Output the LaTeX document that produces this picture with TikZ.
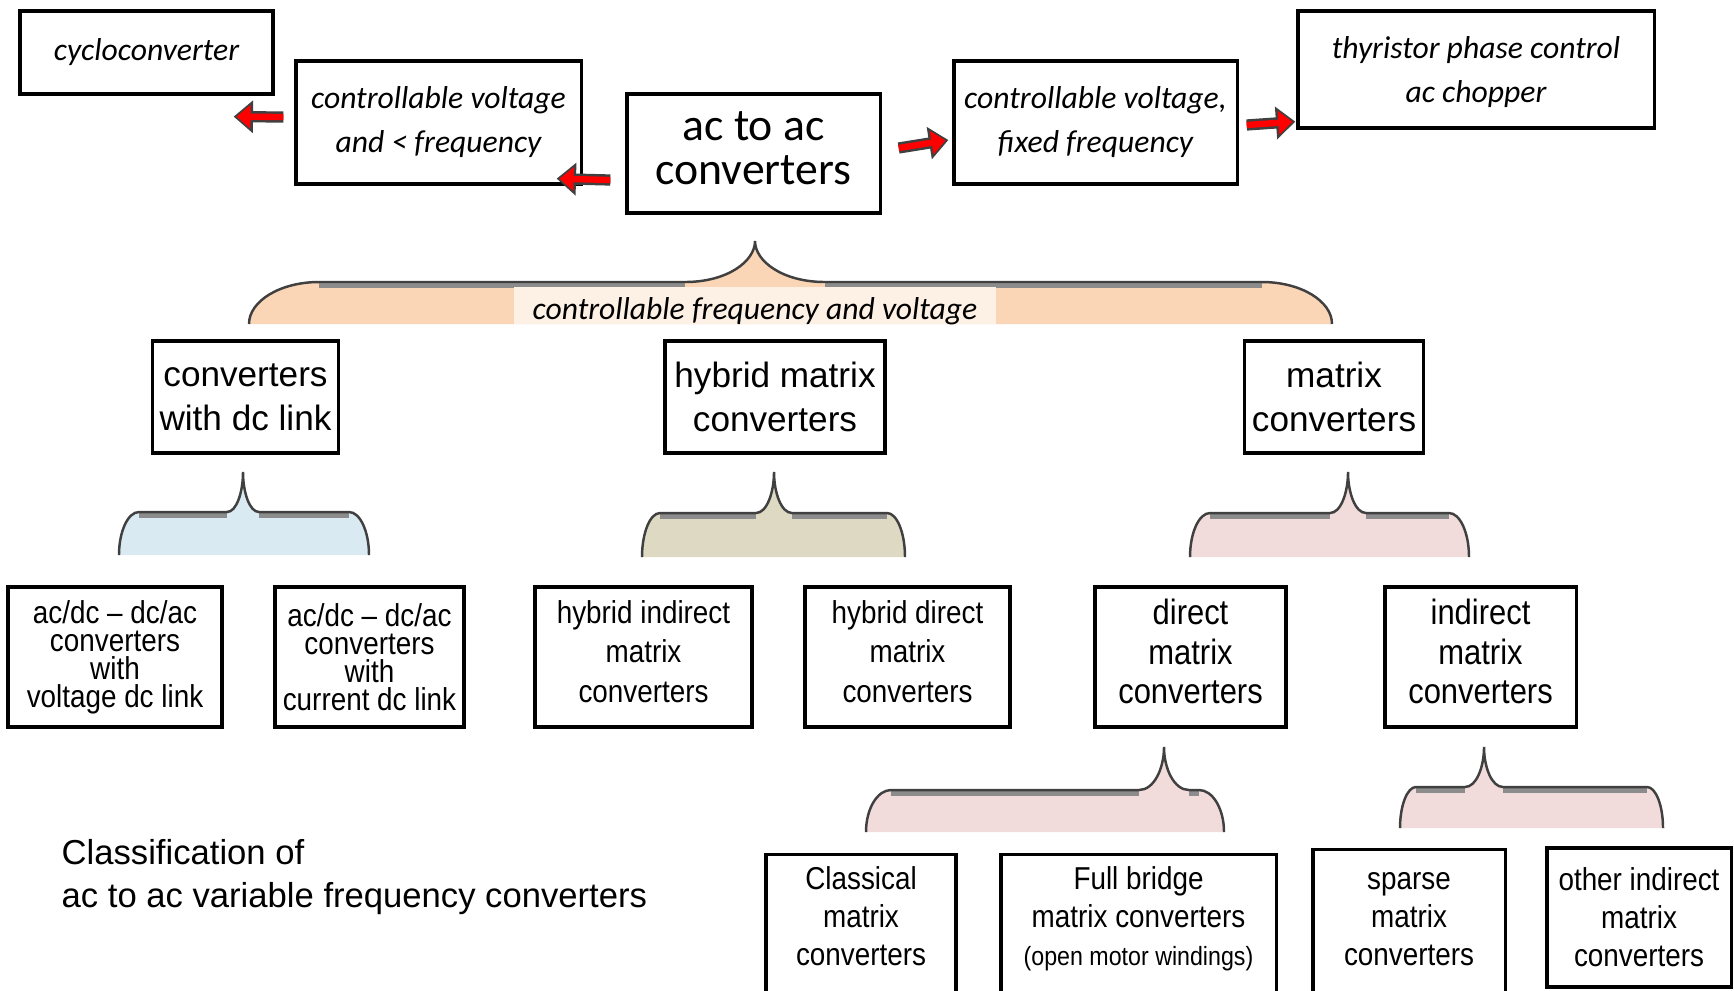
\documentclass[tikz,border=0pt]{standalone}
\usepackage{fontspec}
\setmainfont{Liberation Sans}
\newfontfamily\calfont{Carlito}
\newfontfamily\narrowfont[FakeStretch=0.88]{Liberation Sans}
\usetikzlibrary{arrows.meta,calc}
\definecolor{peach}{RGB}{250,213,182}
\definecolor{peachlight}{RGB}{253,240,229}
\definecolor{bluefill}{RGB}{218,234,242}
\definecolor{khaki}{RGB}{221,217,195}
\definecolor{pinkfill}{RGB}{242,220,219}

% fill, left, right, top, bottom, peak x, peak y, corner, cusp
\newcommand{\convbrace}[9]{%
  \fill[#1] (#2,#5) .. controls (#2,{#5-0.55*(#5-#4)}) and ({#2+0.45*#8},#4) .. ({#2+#8},#4)
    -- ({#6-#9},#4) .. controls ({#6-0.4*#9},#4) and (#6,{#4-0.5*(#4-#7)}) .. (#6,#7)
    .. controls (#6,{#4-0.5*(#4-#7)}) and ({#6+0.4*#9},#4) .. ({#6+#9},#4)
    -- ({#3-#8},#4) .. controls ({#3-0.45*#8},#4) and (#3,{#5-0.55*(#5-#4)}) .. (#3,#5) -- cycle;
  \draw[braceshade] ({#2+#8},{#4+2.5}) -- ({#6-#9},{#4+2.5}) ({#6+#9},{#4+2.5}) -- ({#3-#8},{#4+2.5});
  \draw[braceline] (#2,#5) .. controls (#2,{#5-0.55*(#5-#4)}) and ({#2+0.45*#8},#4) .. ({#2+#8},#4)
    -- ({#6-#9},#4) .. controls ({#6-0.4*#9},#4) and (#6,{#4-0.5*(#4-#7)}) .. (#6,#7)
    .. controls (#6,{#4-0.5*(#4-#7)}) and ({#6+0.4*#9},#4) .. ({#6+#9},#4)
    -- ({#3-#8},#4) .. controls ({#3-0.45*#8},#4) and (#3,{#5-0.55*(#5-#4)}) .. (#3,#5);
}
\newcommand{\redarrow}[2]{\draw[arrowrim] #1 -- #2; \draw[arrowcore] #1 -- #2;}

\begin{document}
\begin{tikzpicture}[x=0.01cm,y=-0.01cm,
  convbox/.style={draw,line width=0.9pt,align=center,inner sep=2pt},
  topbox/.style={convbox,font=\calfont\itshape\fontsize{9}{12.5}\selectfont},
  midbox/.style={convbox,font=\fontsize{10}{12.5}\selectfont},
  lowbox/.style={convbox,text depth=3.2pt,font=\narrowfont\fontsize{10}{11.3}\selectfont},
  leafbox/.style={convbox,anchor=north,inner ysep=3.5pt,text depth=50pt,font=\narrowfont\fontsize{9}{10.8}\selectfont},
  braceline/.style={black!75,line width=0.7pt},
  braceshade/.style={black!45,line width=1.8pt},
  arrowrim/.style={black!75,line width=3.2pt,-{Triangle[length=5.5pt,width=9pt]}},
  arrowcore/.style={red,line width=1.8pt,-{Triangle[length=4pt,width=6.5pt]},shorten >=0.8pt}]
\useasboundingbox (0,0) rectangle (1734,990);
\fill[white] (0,0) rectangle (1734,990);
\clip (0,0) rectangle (1734,990);

\node[topbox,minimum width=2.53cm,minimum height=0.83cm] (cyclo) at (146.5,52.5) {cycloconverter};
\node[topbox,minimum width=2.85cm,minimum height=1.23cm] (cvlf) at (438.5,122.5) {controllable voltage\\and < frequency};
\node[convbox,text depth=3.1pt,font=\calfont\fontsize{13}{12.5}\selectfont,minimum width=2.53cm,minimum height=1.19cm] (acac) at (753.5,153.5) {ac to ac\\converters};
\node[topbox,minimum width=2.83cm,minimum height=1.23cm] (cvff) at (1095.5,122.5) {controllable voltage,\\fixed frequency};
\node[topbox,text depth=0pt,minimum width=3.56cm,minimum height=1.17cm] (thyr) at (1476,69.5) {thyristor phase control\\ac chopper};

\redarrow{($(cvlf.west)+(-11,-5.5)$)}{($(cyclo.south east)+(-41,21)$)}
\redarrow{($(acac.west)+(-15,26.5)$)}{($(cvlf.south east)+(-26,-7)$)}
\redarrow{($(acac.east)+(17,-5.5)$)}{($(cvff.west)+(-4,17.5)$)}
\redarrow{($(cvff.east)+(8,2.5)$)}{($(thyr.south west)+(-1,-8)$)}

\convbrace{peach}{249}{1332}{282}{324}{755}{241}{70}{70}
\fill[peachlight] (514,287) rectangle (996,324);
\node[font=\calfont\itshape\fontsize{9}{12.5}\selectfont] (cfv) at (755,311) {controllable frequency and voltage};

\node[midbox,minimum width=1.77cm,minimum height=1.12cm] (dclink) at (245.5,397) {converters\\with dc link};
\node[midbox,minimum width=2.20cm,minimum height=1.12cm] (hybrid) at (775,397) {hybrid matrix\\converters};
\node[midbox,minimum width=1.78cm,minimum height=1.12cm] (matrix) at (1334,397) {matrix\\converters};

\convbrace{bluefill}{119}{369}{512}{555}{243}{472}{20}{16}
\convbrace{khaki}{642}{905}{513}{557}{774}{472}{18}{18}
\convbrace{pinkfill}{1190}{1469}{513}{557}{1348}{472}{20}{18}

\node[convbox,font=\narrowfont\fontsize{9}{8}\selectfont,minimum width=2.14cm,minimum height=1.40cm] (vlink) at (115,657) {ac/dc – dc/ac\\converters\\with\\voltage dc link};
\node[convbox,font=\narrowfont\fontsize{9}{8}\selectfont,minimum width=1.89cm,minimum height=1.40cm] (clink) at (369.5,657) {ac/dc – dc/ac\\converters\\with\\current dc link};
\node[lowbox,font=\narrowfont\fontsize{9}{11.3}\selectfont,minimum width=2.17cm,minimum height=1.40cm] (hindir) at (643.5,657) {hybrid indirect\\matrix\\converters};
\node[lowbox,font=\narrowfont\fontsize{9}{11.3}\selectfont,minimum width=2.05cm,minimum height=1.40cm] (hdir) at (907.5,657) {hybrid direct\\matrix\\converters};
\node[lowbox,minimum width=1.91cm,minimum height=1.40cm] (direct) at (1190.5,657) {direct\\matrix\\converters};
\node[lowbox,minimum width=1.91cm,minimum height=1.40cm] (indirect) at (1480.5,657) {indirect\\matrix\\converters};

\convbrace{pinkfill}{866}{1224}{790}{832}{1164}{747}{25}{25}
\convbrace{pinkfill}{1400}{1663}{787}{828}{1484}{747}{16}{19}

\node[leafbox,minimum width=1.90cm] (classical) at (861,853) {Classical\\matrix\\converters};
\node[leafbox,minimum width=2.75cm] (fullbridge) at (1138.5,853) {Full bridge\\matrix converters\\{\fontsize{7.5}{10.8}\selectfont(open motor windings)}};
\node[leafbox,inner ysep=4.9pt,minimum width=1.92cm] (sparse) at (1409,848) {\vphantom{Cl}sparse\\matrix\\converters};
\node[convbox,font=\narrowfont\fontsize{9}{10.8}\selectfont,minimum width=1.84cm,minimum height=1.39cm] (other) at (1639,917.5) {other indirect\\matrix\\converters};

\node[anchor=west,align=left,inner sep=0pt,font=\fontsize{9.85}{12.5}\selectfont] (title) at (61,877) {Classification of\\ac to ac variable frequency converters};
\end{tikzpicture}
\end{document}
